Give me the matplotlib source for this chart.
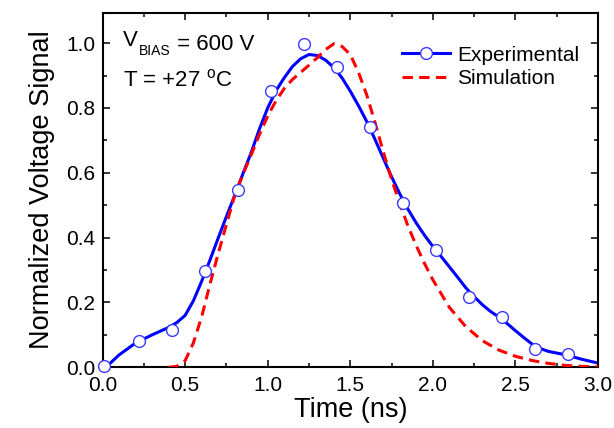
import matplotlib
matplotlib.use("Agg")
import matplotlib.pyplot as plt
from matplotlib.lines import Line2D
from matplotlib.ticker import MultipleLocator

plt.rcParams['font.family'] = ['Liberation Sans', 'DejaVu Sans']
plt.rcParams['mathtext.fontset'] = 'custom'
plt.rcParams['mathtext.rm'] = 'Liberation Sans'
plt.rcParams['mathtext.it'] = 'Liberation Sans:italic'
plt.rcParams['lines.scale_dashes'] = False

# Experimental data points
exp_time = [0.01, 0.22, 0.42, 0.62, 0.82, 1.02, 1.22, 1.42, 1.62, 1.82,
            2.02, 2.22, 2.42, 2.62, 2.82]
exp_signal = [0.005, 0.081, 0.115, 0.298, 0.547, 0.853, 0.997, 0.925, 0.740,
              0.508, 0.362, 0.217, 0.155, 0.057, 0.040]

# Smoothed experimental curve
fit_time = [0.02, 0.1, 0.2, 0.3, 0.4, 0.45, 0.5, 0.55, 0.6, 0.65, 0.7, 0.75,
            0.8, 0.85, 0.9, 0.95, 1.0, 1.05, 1.1, 1.15, 1.2, 1.25, 1.3, 1.35,
            1.4, 1.45, 1.5, 1.55, 1.6, 1.65, 1.7, 1.75, 1.8, 1.85, 1.9, 1.95,
            2.0, 2.05, 2.1, 2.15, 2.2, 2.25, 2.3, 2.35, 2.4, 2.45, 2.5, 2.55,
            2.6, 2.65, 2.7, 2.75, 2.8, 2.85, 2.9, 2.95, 3.0]
fit_signal = [0.0, 0.038, 0.075, 0.100, 0.123, 0.138, 0.160, 0.205, 0.265,
              0.330, 0.398, 0.465, 0.530, 0.597, 0.662, 0.735, 0.800, 0.853,
              0.893, 0.928, 0.952, 0.965, 0.962, 0.948, 0.925, 0.893, 0.852,
              0.807, 0.758, 0.703, 0.645, 0.588, 0.535, 0.487, 0.445, 0.407,
              0.373, 0.342, 0.310, 0.278, 0.245, 0.218, 0.193, 0.172, 0.155,
              0.135, 0.113, 0.092, 0.072, 0.058, 0.049, 0.044, 0.039, 0.032,
              0.025, 0.019, 0.013]

# Simulation curve
sim_time = [0.40, 0.45, 0.50, 0.55, 0.60, 0.65, 0.70, 0.75, 0.80, 0.85,
            0.90, 0.95, 1.00, 1.05, 1.10, 1.15, 1.20, 1.25, 1.30, 1.35,
            1.40, 1.45, 1.50, 1.55, 1.60, 1.65, 1.70, 1.75, 1.80, 1.85,
            1.90, 1.95, 2.00, 2.10, 2.20, 2.30, 2.40, 2.50, 2.60, 2.70,
            2.80, 2.90, 3.00]
sim_signal = [0.0, 0.003, 0.02, 0.075, 0.155, 0.255, 0.35, 0.44, 0.53, 0.595,
              0.655, 0.718, 0.775, 0.822, 0.86, 0.888, 0.91, 0.932, 0.955,
              0.98, 0.998, 0.99, 0.965, 0.91, 0.84, 0.755, 0.665, 0.58, 0.505,
              0.435, 0.375, 0.32, 0.27, 0.185, 0.125, 0.082, 0.053, 0.034,
              0.021, 0.012, 0.006, 0.003, 0.001]

W, H = 614, 428
fig = plt.figure(figsize=(W / 100, H / 100), dpi=100)
L, R, T, B = 102.5, 598, 12.7, 367.3
ax = fig.add_axes([L / W, (H - B) / H, (R - L) / W, (B - T) / H])

blue = '#0000FF'
ax.plot(fit_time, fit_signal, color=blue, lw=2.2, zorder=2)
ax.plot(sim_time, sim_signal, color='#FF0000', lw=2.2, dashes=(7.5, 4.5), zorder=3)
ax.plot(exp_time, exp_signal, ls='none', marker='o', ms=8.5, mfc='white',
        mec='#3a3aff', mew=1.0, zorder=4, clip_on=False)

ax.set_xlim(0, 3.0)
ax.set_ylim(0, 1.094)
ax.xaxis.set_major_locator(MultipleLocator(0.5))
ax.xaxis.set_minor_locator(MultipleLocator(0.25))
ax.yaxis.set_major_locator(MultipleLocator(0.2))
ax.yaxis.set_minor_locator(MultipleLocator(0.1))
ax.xaxis.set_major_formatter(plt.FuncFormatter(lambda v, p: f'{v:.1f}'))
ax.yaxis.set_major_formatter(plt.FuncFormatter(lambda v, p: f'{v:.1f}'))
ax.tick_params(which='both', direction='in', top=True, right=True,
               width=1.1, labelsize=15)
ax.tick_params(which='major', length=5)
ax.tick_params(which='minor', length=3)
ax.tick_params(axis='x', pad=6)
ax.tick_params(axis='y', pad=5)
for s in ax.spines.values():
    s.set_linewidth(1.5)

ax.set_xlabel('Time (ns)', fontsize=19.5, labelpad=2)
ax.set_ylabel('Normalized Voltage Signal', fontsize=19.5, labelpad=8)

# V_BIAS = 600 V, built from pieces so the subscript is small and low
t_v = ax.text(0.042, 0.905, 'V', transform=ax.transAxes, fontsize=16,
              va='baseline', ha='left')
t_sub = ax.annotate('BIAS', xy=(1, 0), xycoords=t_v, xytext=(0.5, -2.5),
                    textcoords='offset points', fontsize=10, va='baseline',
                    ha='left')
ax.annotate(' = 600 V', xy=(1, 0), xycoords=t_sub, xytext=(0, 5.6),
            textcoords='offset points', fontsize=16, va='baseline', ha='left')
ax.text(0.042, 0.793, r'T = +27 $^{\mathrm{o}}$C', transform=ax.transAxes,
        fontsize=16, va='baseline', ha='left')

h_exp = Line2D([], [], color=blue, lw=2.2, marker='o', ms=8.5, mfc='white',
               mec='#3a3aff', mew=1.0)
h_sim = Line2D([], [], color='#FF0000', lw=2.2, dashes=(7.5, 4.5))
ax.legend([h_exp, h_sim], ['Experimental', 'Simulation'], loc='upper left',
          bbox_to_anchor=(0.604, 0.907), frameon=False, fontsize=15,
          borderpad=0, borderaxespad=0, handlelength=2.3, handletextpad=0.35,
          labelspacing=0.2)

fig.savefig('out.png', dpi=100)
